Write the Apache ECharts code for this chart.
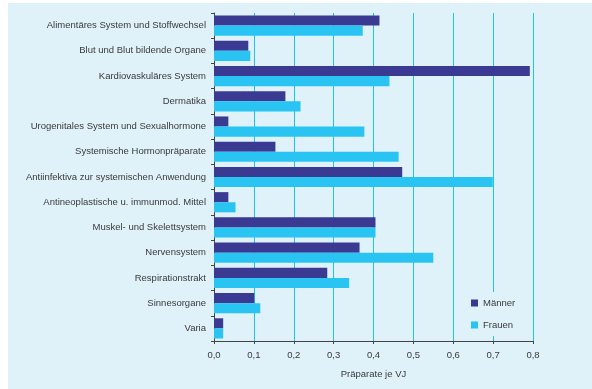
<!DOCTYPE html>
<html lang="de">
<head>
    <meta charset="UTF-8">
    <script src="https://cdn.jsdelivr.net/npm/echarts@6/dist/echarts.min.js"></script>
    <title>Präparate je VJ</title>
    <style>
        body { margin: 0; background: #fff; }
        #myEchart { width: 592px; height: 389px; }
    </style>
</head>
<body>
    <div id="myEchart"></div>
    <script>
        var categories = [
            'Alimentäres System und Stoffwechsel',
            'Blut und Blut bildende Organe',
            'Kardiovaskuläres System',
            'Dermatika',
            'Urogenitales System und Sexualhormone',
            'Systemische Hormonpräparate',
            'Antiinfektiva zur systemischen Anwendung',
            'Antineoplastische u. immunmod. Mittel',
            'Muskel- und Skelettsystem',
            'Nervensystem',
            'Respirationstrakt',
            'Sinnesorgane',
            'Varia'
        ];
        var maenner = [0.415, 0.086, 0.792, 0.179, 0.036, 0.154, 0.472, 0.036, 0.405, 0.365, 0.284, 0.101, 0.023];
        var frauen = [0.373, 0.091, 0.440, 0.217, 0.377, 0.463, 0.699, 0.054, 0.405, 0.550, 0.339, 0.116, 0.023];

        var myChart = echarts.init(document.getElementById('myEchart'));
        var txt = { fontFamily: 'Liberation Sans, Arial, sans-serif', fontSize: 9.5, color: '#3a3a3a' };

        var option = {
            animation: false,
            textStyle: txt,
            graphic: [{
                type: 'rect', z: -10, silent: true,
                shape: { x: 8, y: 3, width: 584, height: 386 },
                style: { fill: '#dff1f9' }
            }],
            legend: {
                orient: 'vertical',
                left: 465,
                top: 292,
                padding: [6, 8, 6, 6],
                icon: 'rect',
                itemWidth: 7,
                itemHeight: 7,
                itemGap: 12,
                backgroundColor: '#dff1f9',
                textStyle: txt,
                data: ['Männer', 'Frauen']
            },
            grid: { left: 214, right: 59, top: 13, bottom: 48 },
            xAxis: {
                type: 'value',
                min: 0,
                max: 0.8,
                interval: 0.1,
                name: 'Präparate je VJ',
                nameLocation: 'middle',
                nameGap: 28,
                nameTextStyle: txt,
                axisLine: { show: true, lineStyle: { color: '#444' } },
                axisTick: { show: true, length: 3, lineStyle: { color: '#444' } },
                axisLabel: Object.assign({ margin: 9, formatter: function (v) { return v.toFixed(1).replace('.', ','); } }, txt),
                splitLine: { show: true, lineStyle: { color: '#1ec2f2', width: 1 } }
            },
            yAxis: {
                type: 'category',
                inverse: true,
                data: categories,
                axisLine: { show: true, lineStyle: { color: '#444' } },
                axisTick: { show: true, length: 3, lineStyle: { color: '#444' } },
                axisLabel: Object.assign({ margin: 8 }, txt),
                splitLine: { show: false }
            },
            series: [
                {
                    name: 'Männer',
                    type: 'bar',
                    data: maenner,
                    barGap: '0%',
                    barCategoryGap: '20%',
                    itemStyle: { color: '#3a3a93' }
                },
                {
                    name: 'Frauen',
                    type: 'bar',
                    data: frauen,
                    barGap: '0%',
                    barCategoryGap: '20%',
                    itemStyle: { color: '#29c4f2' }
                }
            ]
        };

        myChart.setOption(option);
    </script>
</body>
</html>
